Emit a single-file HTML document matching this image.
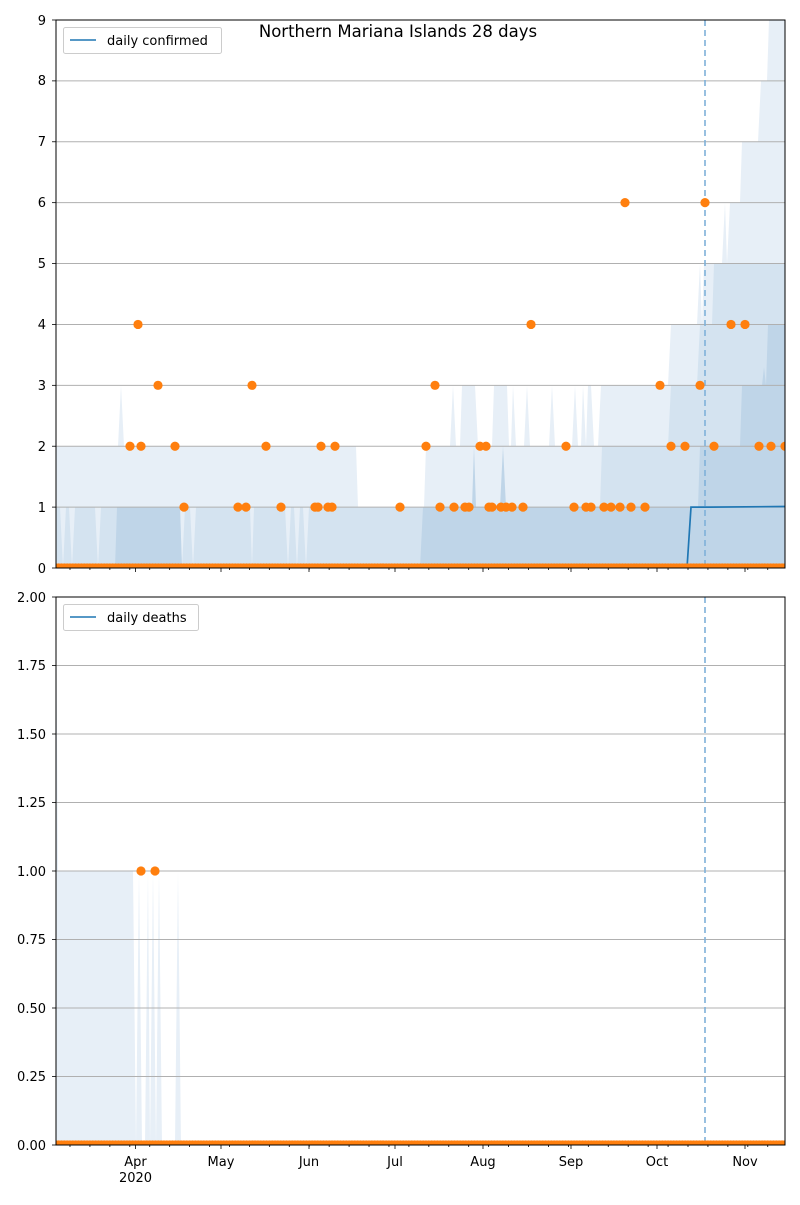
<!DOCTYPE html>
<html><head><meta charset="utf-8"><style>
body{margin:0;background:#fff}
svg text{font-family:"DejaVu Sans","Liberation Sans",sans-serif;font-size:13px;fill:#000}
</style></head><body>
<svg id="s" width="800" height="1200" xmlns="http://www.w3.org/2000/svg">
<defs>
<clipPath id="ct"><rect x="56" y="20" width="729" height="548"/></clipPath>
<clipPath id="cb"><rect x="56" y="597" width="729" height="548"/></clipPath>
</defs>
<rect width="800" height="1200" fill="#fff"/>
<g id="top" clip-path="url(#ct)"></g>
<g id="bot" clip-path="url(#cb)"></g>
<g text-anchor="end">
<text x="46" y="573">0</text><text x="46" y="512">1</text><text x="46" y="451">2</text><text x="46" y="390">3</text><text x="46" y="329">4</text><text x="46" y="268">5</text><text x="46" y="207">6</text><text x="46" y="146">7</text><text x="46" y="85">8</text><text x="46" y="25">9</text>
<text x="46" y="1150">0.00</text><text x="46" y="1081">0.25</text><text x="46" y="1013">0.50</text><text x="46" y="944">0.75</text><text x="46" y="876">1.00</text><text x="46" y="807">1.25</text><text x="46" y="739">1.50</text><text x="46" y="670">1.75</text><text x="46" y="602">2.00</text>
</g>
<g text-anchor="middle">
<text x="135.5" y="1166">Apr</text><text x="135.5" y="1182">2020</text>
<text x="221" y="1166">May</text><text x="309" y="1166">Jun</text><text x="395" y="1166">Jul</text><text x="483" y="1166">Aug</text><text x="571" y="1166">Sep</text><text x="657" y="1166">Oct</text><text x="745" y="1166">Nov</text>
<text x="398" y="37" style="font-size:16.5px">Northern Mariana Islands 28 days</text>
</g>
<rect x="63.5" y="27.5" width="158" height="26" rx="2" fill="#fff" fill-opacity="0.8" stroke="#ccc"/>
<line x1="70" y1="40" x2="96" y2="40" stroke="#1f77b4" stroke-width="1.5"/>
<text x="107" y="45">daily confirmed</text>
<rect x="63.5" y="604.5" width="135" height="26" rx="2" fill="#fff" fill-opacity="0.8" stroke="#ccc"/>
<line x1="70" y1="617" x2="96" y2="617" stroke="#1f77b4" stroke-width="1.5"/>
<text x="107" y="622">daily deaths</text>
</svg>
<script>
const NS="http://www.w3.org/2000/svg";
function el(p,t,a){const e=document.createElementNS(NS,t);for(const k in a)e.setAttribute(k,a[k]);p.appendChild(e);return e;}
const T=document.getElementById('top'),B=document.getElementById('bot');
const X0=56,X1=785;
function Ty(v){return 568-v*60.89;}
function By(v){return 1145-v*274;}
function poly(g,pts,fy,fill){let d=`M${pts[0][0]},${fy(0)}`;for(const p of pts)d+=` L${p[0]},${fy(p[1])}`;d+=` L${pts[pts.length-1][0]},${fy(0)}Z`;el(g,'path',{d:d,fill:fill,stroke:'none'});}
const light=[[56,2],[118,2],[121,3],[124,2],[356,2],[358,1],[424,1],[426,2],[450,2],[453,3],[456,2],[460,2],[462,3],[475,3],[478,2],[492,2],[494,3],[507,3],[509,2],[511,2],[513,3],[516,2],[524,2],[527,3],[530,2],[549,2],[552,3],[555,2],[572,2],[575,3],[578,2],[581,2],[583,3],[586,2],[588,3],[591,3],[594,2],[598,2],[601,3],[668,3],[671,4],[697,4],[700,5],[702,4],[704,5],[722,5],[725,6],[727,5],[730,6],[740,6],[742,7],[758,7],[761,8],[767,8],[769,9],[785,9]];
const med=[[56,1],[60,1],[63,0],[66,1],[69,1],[72,0],[75,1],[95,1],[98,0],[101,1],[110,1],[115,1],[180,1],[182,0],[185,1],[190,1],[193,0],[196,1],[250,1],[252,0],[254,1],[285,1],[288,0],[291,1],[294,1],[297,0],[300,1],[303,1],[306,0],[309,1],[356,1],[358,1],[424,1],[600,1],[602,2],[668,2],[671,3],[697,3],[700,4],[712,4],[714,5],[740,5],[742,5],[785,5]];
const dark=[[56,0],[115,0],[117,1],[180,1],[182,0],[420,0],[423,1],[472,1],[474,2],[476,1],[500,1],[503,2],[506,1],[600,1],[602,1],[698,1],[700,2],[740,2],[742,3],[762,3],[764,3.3],[766,3],[768,4],[785,4]];
poly(T,light,Ty,'#e7eff7');poly(T,med,Ty,'#d4e3f0');poly(T,dark,Ty,'#bfd5e8');
for(let v=1;v<=8;v++)el(T,'line',{x1:X0,x2:X1,y1:Ty(v),y2:Ty(v),stroke:'#b0b0b0','stroke-width':1});
const bl=[[56,2],[58,1],[133,1],[136,0],[139,1],[142,0],[145,0],[148,1],[150,0],[153,1],[156,0],[159,1],[162,0],[175,0],[178,1],[181,0],[785,0]];
poly(B,bl,By,'#e7eff7');
for(let v=0.25;v<2;v+=0.25)el(B,'line',{x1:X0,x2:X1,y1:By(v),y2:By(v),stroke:'#b0b0b0','stroke-width':1});
el(T,'polyline',{points:`56,${Ty(0)} 687,${Ty(0)} 691,${Ty(1)} 710,${Ty(1)} 785,${Ty(1.01)}`,fill:'none',stroke:'#1f77b4','stroke-width':1.7});
el(B,'line',{x1:56,x2:785,y1:By(0),y2:By(0),stroke:'#1f77b4','stroke-width':1.7});
el(T,'line',{x1:705,x2:705,y1:20,y2:568,stroke:'#7fb1d9','stroke-width':1.6,'stroke-dasharray':'6,4'});
el(B,'line',{x1:705,x2:705,y1:597,y2:1145,stroke:'#7fb1d9','stroke-width':1.6,'stroke-dasharray':'6,4'});
const pd=2.848,m0=47.2;
function dot(g,x,y){el(g,'circle',{cx:x,cy:y,r:4.6,fill:'#ff7f0e'});}
for(let d=3;d<=259;d++){const x=m0+d*pd;dot(T,x,Ty(0));dot(B,x,By(0));}
const td=[[130,2],[138,4],[141,2],[158,3],[175,2],[184,1],[238,1],[246,1],[252,3],[266,2],[281,1],[315,1],[318,1],[321,2],[328,1],[332,1],[335,2],[400,1],[426,2],[435,3],[440,1],[454,1],[465,1],[469,1],[480,2],[486,2],[489,1],[492,1],[501,1],[506,1],[512,1],[523,1],[531,4],[566,2],[574,1],[586,1],[591,1],[604,1],[611,1],[620,1],[625,6],[631,1],[645,1],[660,3],[671,2],[685,2],[700,3],[705,6],[714,2],[731,4],[745,4],[759,2],[771,2],[785,2]];
for(const p of td)dot(T,p[0],Ty(p[1]));
dot(B,141,By(1));dot(B,155,By(1));
const S=document.getElementById('s');
for(const [y0,y1] of [[20,568],[597,1145]]){
 el(S,'rect',{x:56,y:y0,width:729,height:y1-y0,fill:'none',stroke:'#000','stroke-width':1});
 for(let d=8;d<=259;d+=7){const x=m0+d*pd;if(x<56||x>785)continue;el(S,'line',{x1:x,x2:x,y1:y1,y2:y1+2,stroke:'#000','stroke-width':0.8});}
 for(const x of [135.5,221,309,395,483,571,657,745])el(S,'line',{x1:x,x2:x,y1:y1,y2:y1+4,stroke:'#000','stroke-width':0.8});
}
for(let v=0;v<=9;v++)el(S,'line',{x1:52,x2:56,y1:Ty(v),y2:Ty(v),stroke:'#000','stroke-width':0.8});
for(let v=0;v<=2;v+=0.25)el(S,'line',{x1:52,x2:56,y1:By(v),y2:By(v),stroke:'#000','stroke-width':0.8});
</script>
</body></html>
